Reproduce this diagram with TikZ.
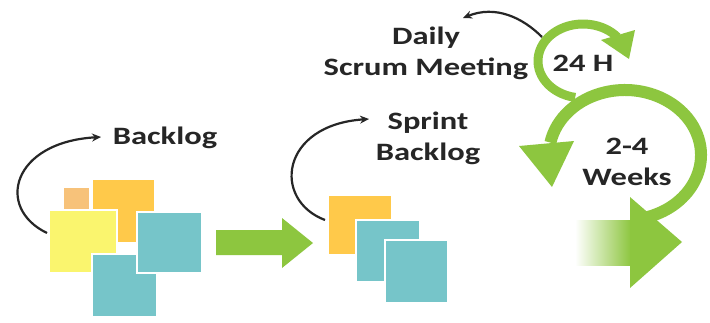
\documentclass[tikz,border=0pt]{standalone}
\usepackage{fontspec}
\usetikzlibrary{arrows.meta}
\newfontfamily\lab{Carlito}[FakeStretch=1.3, BoldFeatures={FakeStretch=1.3}]
\definecolor{grn}{HTML}{8DC63F}
\definecolor{ylw}{HTML}{FAF56E}
\definecolor{gold}{HTML}{FFC94A}
\definecolor{lorange}{HTML}{F7C27A}
\definecolor{teal}{HTML}{76C5C9}
\definecolor{ink}{HTML}{262626}
\begin{document}
\begin{tikzpicture}[x=1pt,y=-1pt,
  card/.style={draw=white, line width=1.4pt, inner sep=0pt, outer sep=0pt, anchor=north west},
  lbl/.style={font=\lab\bfseries\fontsize{25}{31}\selectfont, text=ink, inner sep=0pt, align=center},
  curv/.style={draw=ink, line width=2.2pt, -{Stealth[length=9pt,width=8pt]}},
  ring/.style={draw=grn, line width=12pt},
  greenfill/.style={fill=grn, draw=none}]
\useasboundingbox (0,0) rectangle (710,322);
\fill[white] (0,0) rectangle (710,322);

% backlog cards
\node[card, fill=lorange, minimum width=27pt, minimum height=28pt] (c1) at (63,187) {};
\node[card, fill=gold, minimum width=63pt, minimum height=64pt] (c2) at (92,179) {};
\node[card, fill=ylw, minimum width=68pt, minimum height=63pt] (c3) at (49,210) {};
\node[card, fill=teal, minimum width=65pt, minimum height=63pt] (c4) at (92,254) {};
\node[card, fill=teal, minimum width=65pt, minimum height=61pt] (c5) at (137,212) {};

% sprint cards
\node[card, fill=gold, minimum width=64pt, minimum height=60pt] (s1) at (328,195) {};
\node[card, fill=teal, minimum width=64pt, minimum height=62pt] (s2) at (356,220) {};
\node[card, fill=teal, minimum width=63pt, minimum height=63pt] (s3) at (385,240) {};

% middle green arrow
\path[greenfill] (216,230) -- (282,230) -- (282,218) -- (313,243) -- (282,268) -- (282,255) -- (216,255) -- cycle;

% labels
\node[lbl] (tB) at (165,138) {Backlog};
\node[lbl] (tSB) at (428,138) {Sprint\\Backlog};
\node[lbl] (tD) at (426,53) {Daily\\Scrum Meeting};
\node[lbl] (t24) at (583,63) {24 H};
\node[lbl] (tW) at (627,162) {2-4\\Weeks};

% black curved arrows
\coordinate (a1s) at (47,233);
\coordinate (a1e) at (101,137);
\draw[curv] (a1s) .. controls (-5,208) and (12,142) .. (a1e);
\coordinate (a2s) at (325,220);
\coordinate (a2e) at (369,119);
\draw[curv] (a2s) .. controls (272,200) and (280,125) .. (a2e);
\coordinate (a3s) at (542,37);
\coordinate (a3e) at (463,18);
\draw[curv] (a3s) .. controls (522,17) and (495,5) .. (a3e);

% big gradient arrow
\shade[left color=white, right color=grn, draw=none] (575,220) rectangle (631,265);
\path[greenfill] (630,197) -- (682,242) -- (630,288) -- cycle;

% big ring
\draw[ring] (625,155) ++(75:76 and 65) arc[start angle=75, end angle=-169, x radius=76, y radius=65];
\path[greenfill] (519,146) -- (574,141) -- (552,187) -- cycle;

% small ring
\draw[ring, line width=9pt] (583,61) ++(100:45 and 37) arc[start angle=100, end angle=320, x radius=45, y radius=37];
\path[greenfill] (601,40) -- (635,30) -- (629,59) -- cycle;
\end{tikzpicture}
\end{document}
